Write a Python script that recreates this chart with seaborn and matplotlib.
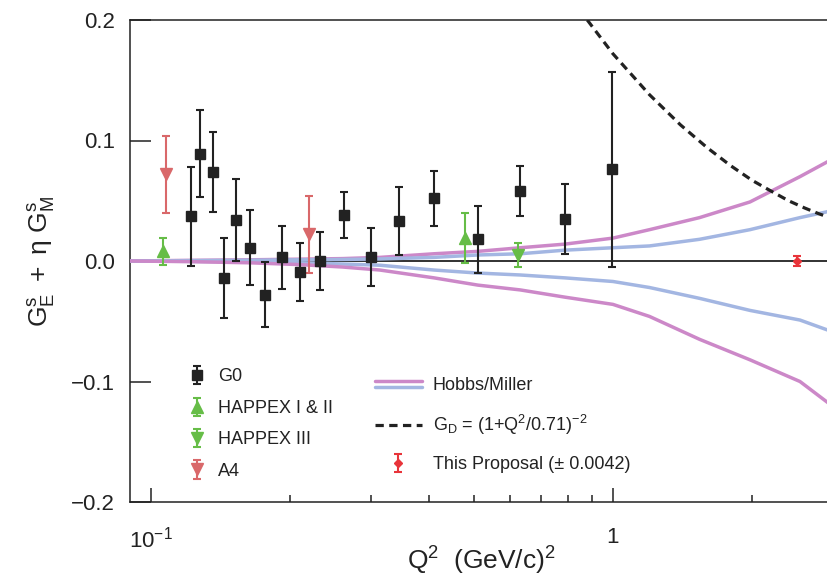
import numpy as np
import pandas as pd
import seaborn as sns
import matplotlib.pyplot as plt
from matplotlib.lines import Line2D
from matplotlib.legend_handler import HandlerBase
from matplotlib.ticker import FixedLocator, FuncFormatter, NullFormatter

sns.set_theme(style="ticks")
plt.rcParams['font.family'] = ['Liberation Sans', 'DejaVu Sans']
plt.rcParams['mathtext.fontset'] = 'custom'
plt.rcParams['mathtext.rm'] = 'Liberation Sans'
plt.rcParams['mathtext.it'] = 'Liberation Sans:italic'
plt.rcParams['mathtext.bf'] = 'Liberation Sans:bold'


# DATA
g0_q2  = [0.122, 0.128, 0.136, 0.144, 0.153, 0.164, 0.177, 0.192, 0.210,
          0.232, 0.262, 0.300, 0.344, 0.410, 0.511, 0.630, 0.788, 0.997]
g0_val = [0.037, 0.089, 0.074, -0.014, 0.034, 0.011, -0.028, 0.003, -0.009,
          0.000, 0.038, 0.003, 0.033, 0.052, 0.018, 0.058, 0.035, 0.076]
g0_err = [0.041, 0.036, 0.033, 0.033, 0.034, 0.031, 0.027, 0.026, 0.024,
          0.024, 0.019, 0.024, 0.028, 0.023, 0.028, 0.021, 0.029, 0.081]

hap12_q2  = [0.106, 0.478]
hap12_val = [0.008, 0.019]
hap12_err = [0.011, 0.021]

hap3_q2  = [0.622]
hap3_val = [0.005]
hap3_err = [0.010]

a4_q2  = [0.108, 0.220]
a4_val = [0.072, 0.022]
a4_err = [0.032, 0.032]

prop_q2  = [2.5]
prop_val = [0.0]
prop_err = [0.0042]

hm_q2      = [0.09, 0.12, 0.164, 0.21, 0.26, 0.313, 0.41, 0.51, 0.63, 0.787,
              1.0, 1.2, 1.54, 1.98, 2.54, 3.0]
pink_upper = [0.000, 0.0005, 0.001, 0.0015, 0.002, 0.003, 0.006, 0.008, 0.011, 0.014,
              0.019, 0.026, 0.036, 0.049, 0.070, 0.085]
blue_upper = [0.000, 0.0003, 0.0006, 0.001, 0.0013, 0.0017, 0.003, 0.005, 0.006, 0.009,
              0.011, 0.0125, 0.018, 0.026, 0.036, 0.042]
blue_lower = [0.000, -0.0003, -0.0008, -0.0015, -0.0025, -0.0035, -0.0075, -0.010, -0.0116, -0.014,
              -0.017, -0.022, -0.031, -0.041, -0.049, -0.059]
pink_lower = [0.000, -0.0005, -0.0015, -0.003, -0.005, -0.0075, -0.014, -0.020, -0.024, -0.030,
              -0.036, -0.046, -0.065, -0.082, -0.100, -0.121]

gd_q2  = [0.88, 1.0, 1.2, 1.4, 1.6, 1.8, 2.0, 2.2, 2.4, 2.6, 2.8, 3.0]
gd_val = [0.200, 0.172, 0.138, 0.113, 0.094, 0.079, 0.067, 0.058, 0.050, 0.044, 0.039, 0.035]

# COLOURS
BLACK = '#222222'
GREEN = '#66bd47'
RED_A4 = '#d9686a'
RED = '#e8343a'
PINK = '#cc88c8'
BLUE = '#a3b6e2'


class DoubleLine(HandlerBase):

    def create_artists(self, legend, orig, xdescent, ydescent, width, height, fontsize, trans):

        y0 = height / 2 - ydescent
        x = [-xdescent, width - xdescent]
        top = Line2D(x, [y0 + 2.2, y0 + 2.2], color=PINK, lw=2.5, transform=trans)
        bot = Line2D(x, [y0 - 2.2, y0 - 2.2], color=BLUE, lw=2.5, transform=trans)

        return [top, bot]


fig = plt.figure(figsize=(8.28, 5.76), dpi=100)
# axes run a little past the right edge of the figure, as in the reference
ax = fig.add_axes([130/828, 74/576, 702/828, 482/576])

ax.axhline(0, color=BLACK, lw=1.3, zorder=2)

for vals, col in [(pink_upper, PINK), (blue_upper, BLUE), (blue_lower, BLUE), (pink_lower, PINK)]:
    sns.lineplot(x=hm_q2, y=vals, color=col, lw=2.5, ax=ax, zorder=3)

sns.lineplot(x=gd_q2, y=gd_val, color=BLACK, lw=2.3, linestyle=(0, (2.6, 1.7)), ax=ax, zorder=3)

ebkw = dict(elinewidth=1.5, capsize=2.6, capthick=1.5, zorder=5)
h_g0 = ax.errorbar(g0_q2, g0_val, yerr=g0_err, fmt='s', color=BLACK, ms=7.5, **ebkw)
h_h12 = ax.errorbar(hap12_q2, hap12_val, yerr=hap12_err, fmt='^', color=GREEN, ms=8, **ebkw)
h_h3 = ax.errorbar(hap3_q2, hap3_val, yerr=hap3_err, fmt='v', color=GREEN, ms=8, **ebkw)
h_a4 = ax.errorbar(a4_q2, a4_val, yerr=a4_err, fmt='v', color=RED_A4, ms=8, **ebkw)
h_pr = ax.errorbar(prop_q2, prop_val, yerr=prop_err, fmt='D', color=RED, ms=4.5,
                   elinewidth=1.5, capsize=3, capthick=1.5, zorder=6)

ax.set_xscale('log')
ax.set_xlim(0.0901, 2.98)
ax.set_ylim(-0.2, 0.2)

ax.xaxis.set_major_locator(FixedLocator([0.1, 1]))
ax.xaxis.set_major_formatter(FuncFormatter(lambda v, p: '1' if v >= 1 else r'$\mathregular{10^{-1}}$'))
ax.xaxis.set_minor_locator(FixedLocator([0.2, 0.3, 0.4, 0.5, 0.6, 0.7, 0.8, 0.9, 2]))
ax.xaxis.set_minor_formatter(NullFormatter())
ax.set_yticks([-0.2, -0.1, 0.0, 0.1, 0.2])
ax.yaxis.set_major_formatter(FuncFormatter(lambda v, p: f'{v:.1f}'.replace('-', '\u2212')))

ax.tick_params(axis='x', which='major', direction='in', length=10, width=1.1,
               labelsize=16, pad=18, color=BLACK, labelcolor=BLACK)
ax.tick_params(axis='x', which='minor', direction='in', length=5, width=1.1, color=BLACK)
ax.tick_params(axis='y', which='major', direction='in', length=15, width=1.1,
               labelsize=16, pad=11, color=BLACK, labelcolor=BLACK)

for s in ax.spines.values():
    s.set_linewidth(1.1)
    s.set_color(BLACK)

ax.set_xlabel(r'$\mathregular{Q^2}$  (GeV/c)$\mathregular{^2}$', fontsize=19, color=BLACK, labelpad=-6)
ax.set_ylabel(r'$\mathregular{G^s_E\ +\ η\ G^s_M}$', fontsize=19, color=BLACK, labelpad=10)

leg1 = ax.legend([h_g0, h_h12, h_h3, h_a4], ['G0', 'HAPPEX I & II', 'HAPPEX III', 'A4'],
                 loc='upper left', bbox_to_anchor=(0.083, 0.277), frameon=False,
                 fontsize=13, handlelength=1.0, handletextpad=0.65, labelspacing=0.8,
                 borderpad=0, borderaxespad=0)
for t in leg1.get_texts():
    t.set_color(BLACK)
ax.add_artist(leg1)

h_hm = Line2D([], [], color=PINK)
h_gd = Line2D([], [], color=BLACK, lw=2.3, linestyle=(0, (2.6, 1.7)))
leg2 = ax.legend([h_hm, h_gd, h_pr],
                 ['Hobbs/Miller', r'$\mathregular{G_D}$ = (1+Q$\mathregular{^2}$/0.71)$\mathregular{^{-2}}$',
                  'This Proposal (\u00b1 0.0042)'],
                 handler_map={h_hm: DoubleLine()},
                 loc='upper left', bbox_to_anchor=(0.349, 0.259), frameon=False,
                 fontsize=13, handlelength=2.6, handletextpad=0.6, labelspacing=1.05,
                 borderpad=0, borderaxespad=0)
for t in leg2.get_texts():
    t.set_color(BLACK)

fig.savefig('out.png', dpi=100)
